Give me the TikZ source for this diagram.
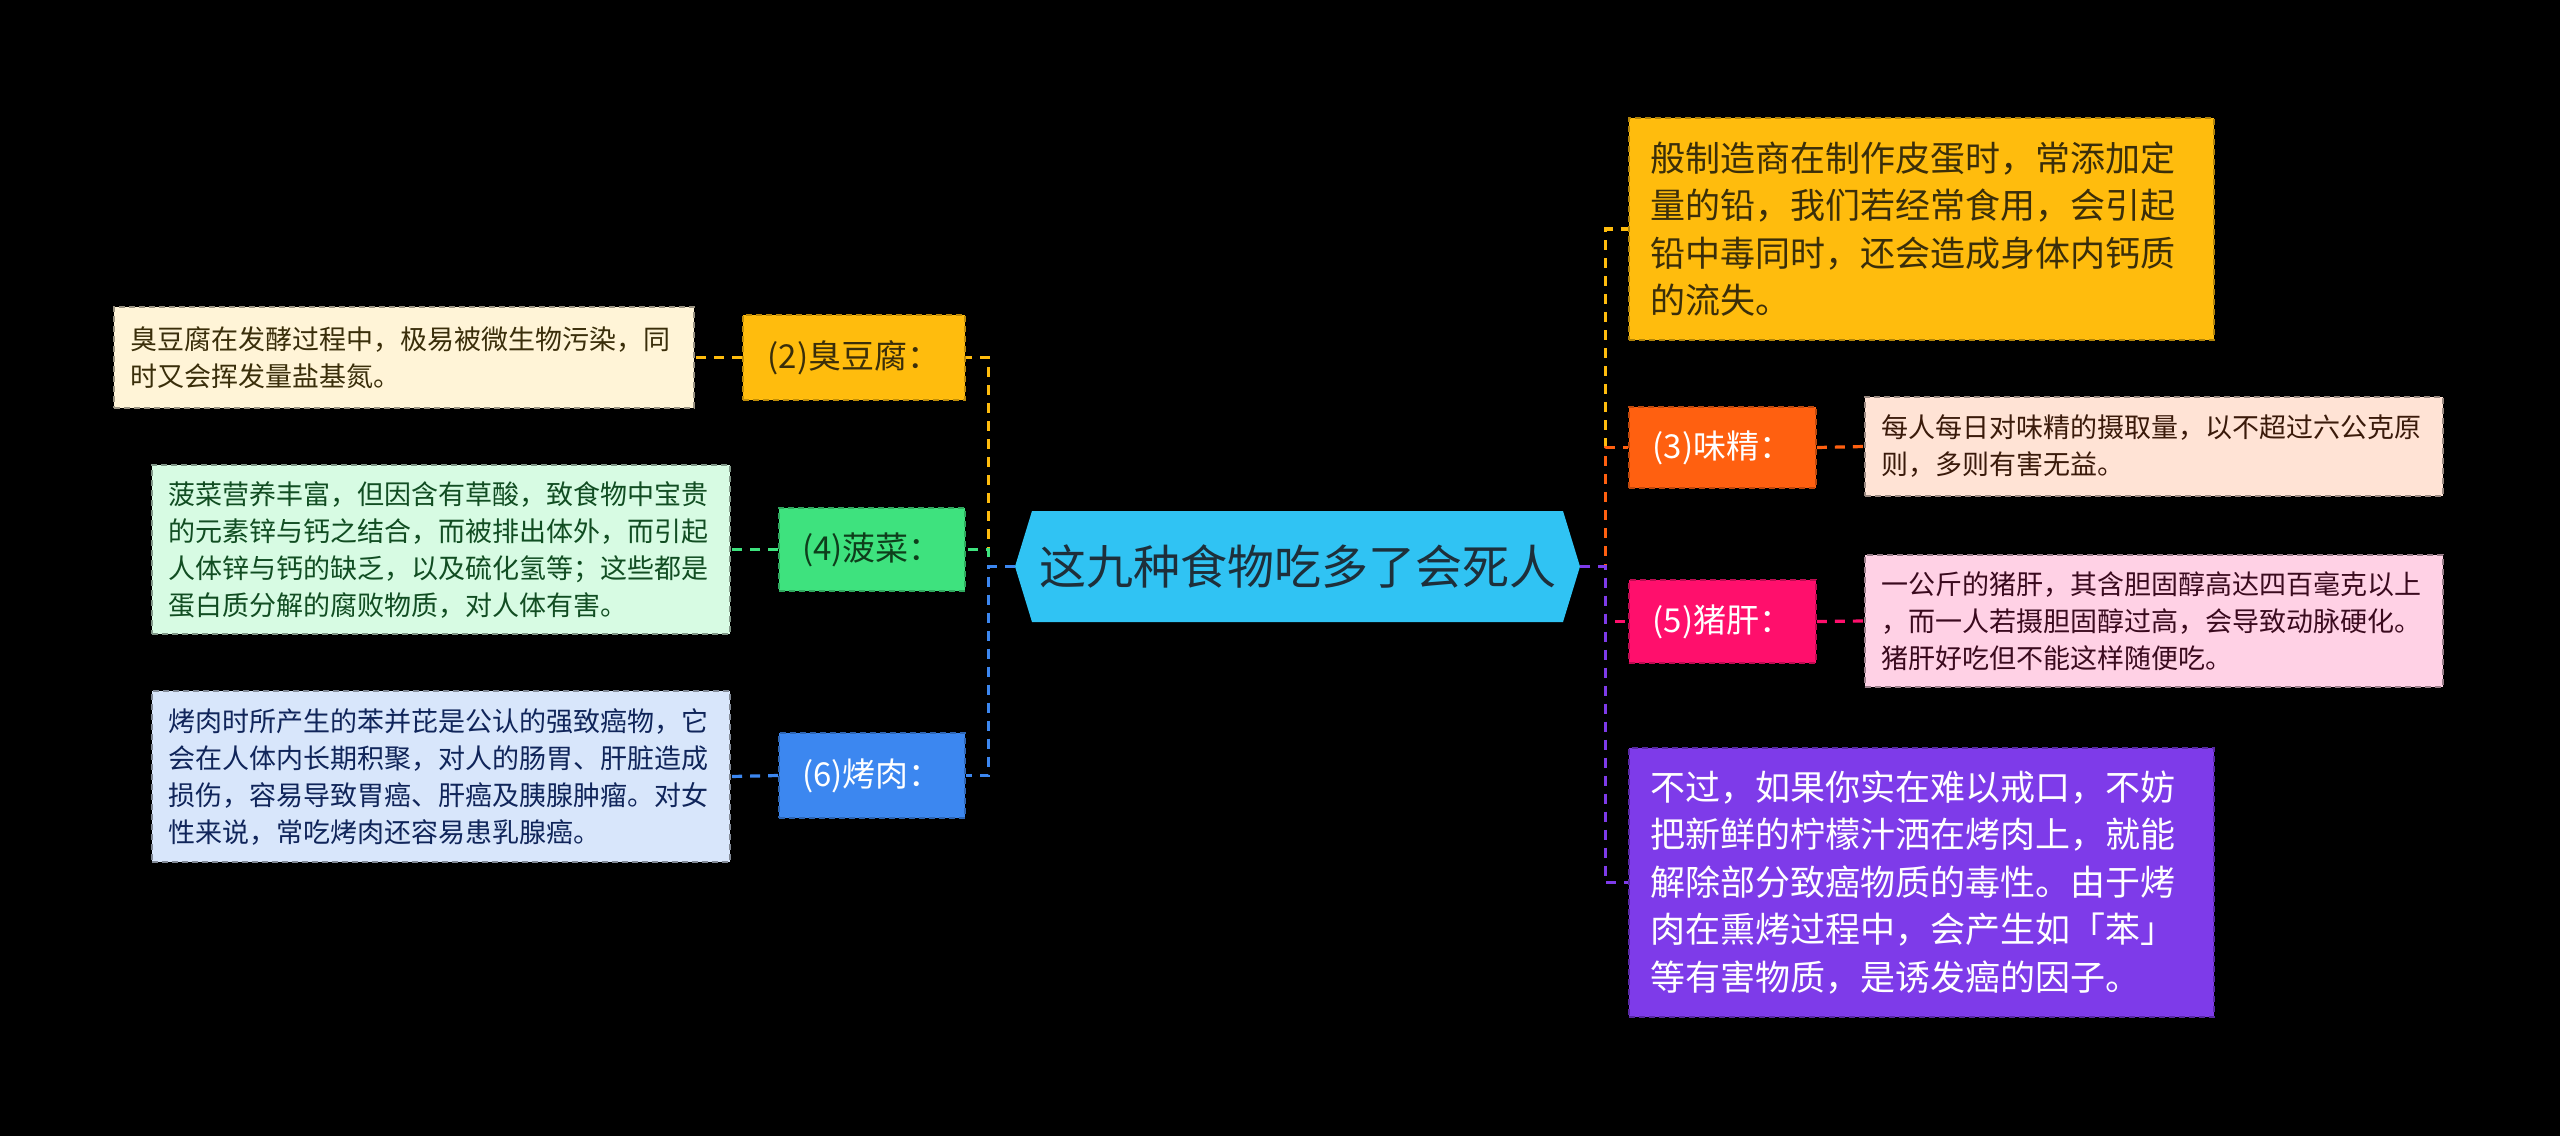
\documentclass[tikz,border=0pt]{standalone}
\usepackage{fontspec}
\setmainfont{Noto Sans CJK SC}
\definecolor{ycol}{HTML}{FFBC0D}
\definecolor{gcol}{HTML}{3EE27E}
\definecolor{bcol}{HTML}{3C87F0}
\definecolor{ocol}{HTML}{FF6010}
\definecolor{pcol}{HTML}{FF0F6C}
\definecolor{vcol}{HTML}{7E3BE9}
\definecolor{rootc}{HTML}{30C3F3}
\definecolor{dyfill}{HTML}{FFF4D7}
\definecolor{dgfill}{HTML}{D7FBE3}
\definecolor{dbfill}{HTML}{D8E6FB}
\definecolor{dofill}{HTML}{FFE3D5}
\definecolor{dpfill}{HTML}{FFD1E5}
\definecolor{tyd}{HTML}{3A2E0A}
\definecolor{tgd}{HTML}{114D22}
\definecolor{tbd}{HTML}{10255A}
\definecolor{tod}{HTML}{3A1A0A}
\definecolor{tpd}{HTML}{3A0A1E}
\definecolor{troot}{HTML}{1E2F3A}
\begin{document}
\begin{tikzpicture}[x=1pt,y=-1pt,
  box/.style={rectangle, line width=1.6pt, dash pattern=on 6pt off 4pt},
  descbox/.style={box, font=\fontsize{27}{37}\selectfont, align=left, text width=546pt, inner xsep=16pt, inner ysep=0pt},
  labbox/.style={box, font=\fontsize{33}{40}\selectfont, align=center, inner sep=0pt},
  bigbox/.style={box, font=\fontsize{35}{47.5}\selectfont, align=left, text width=543pt, inner xsep=21pt, inner ysep=0pt, minimum width=585pt},
  link/.style={line width=3.2pt, dash pattern=on 10pt off 8pt}
]
\fill[black] (0,0) rectangle (2560,1136);
\useasboundingbox (0,0) rectangle (2560,1136);

% root
\node[rectangle, inner sep=0pt, minimum width=565pt, minimum height=111pt,
  font=\fontsize{47}{56}\selectfont, text=troot,
  path picture={\fill[rootc] (path picture bounding box.west)
    -- ([xshift=17pt]path picture bounding box.north west)
    -- ([xshift=-17pt]path picture bounding box.north east)
    -- (path picture bounding box.east)
    -- ([xshift=-17pt]path picture bounding box.south east)
    -- ([xshift=17pt]path picture bounding box.south west) -- cycle;}]
  (root) at (1297.5,566.5) {这九种食物吃多了会死人};

% left labels
\node[labbox, fill=ycol, draw=ycol!75!black, text=tyd, minimum width=222pt, minimum height=85pt] (l2) at (854,357.5) {(2)臭豆腐：};
\node[labbox, fill=gcol, draw=gcol!75!black, text=tgd!80!black, minimum width=186pt, minimum height=83pt] (l4) at (872,549.5) {(4)菠菜：};
\node[labbox, fill=bcol, draw=bcol!75!black, text=white, minimum width=186pt, minimum height=85pt] (l6) at (872,775.5) {(6)烤肉：};

% left descriptions
\node[descbox, fill=dyfill, draw=dyfill!60!black, text=tyd, text width=548pt, minimum height=101pt] (d2) at (404,357.5) {臭豆腐在发酵过程中，极易被微生物污染，同\\时又会挥发量盐基氮。};
\node[descbox, fill=dgfill, draw=dgfill!60!black, text=tgd, minimum height=169pt] (d4) at (441,549.5) {菠菜营养丰富，但因含有草酸，致食物中宝贵\\的元素锌与钙之结合，而被排出体外，而引起\\人体锌与钙的缺乏，以及硫化氢等；这些都是\\蛋白质分解的腐败物质，对人体有害。};
\node[descbox, fill=dbfill, draw=dbfill!60!black, text=tbd, minimum height=171pt] (d6) at (441,776.5) {烤肉时所产生的苯并芘是公认的强致癌物，它\\会在人体内长期积聚，对人的肠胃、肝脏造成\\损伤，容易导致胃癌、肝癌及胰腺肿瘤。对女\\性来说，常吃烤肉还容易患乳腺癌。};

% right side
\node[bigbox, fill=ycol, draw=ycol!70!black, text=tyd, minimum height=222pt] (t1) at (1921.5,229) {般制造商在制作皮蛋时，常添加定\\量的铅，我们若经常食用，会引起\\铅中毒同时，还会造成身体内钙质\\的流失。};
\node[labbox, fill=ocol, draw=ocol!75!black, text=white, minimum width=187pt, minimum height=81pt] (l3) at (1722.5,447.5) {(3)味精：};
\node[labbox, fill=pcol, draw=pcol!75!black, text=white, minimum width=187pt, minimum height=83pt] (l5) at (1722.5,621.5) {(5)猪肝：};
\node[bigbox, fill=vcol, draw=vcol!70!black, text=white, minimum height=269pt] (t7) at (1921.5,882.5) {不过，如果你实在难以戒口，不妨\\把新鲜的柠檬汁洒在烤肉上，就能\\解除部分致癌物质的毒性。由于烤\\肉在熏烤过程中，会产生如「苯」\\等有害物质，是诱发癌的因子。};

\node[descbox, fill=dofill, draw=dofill!60!black, text=tod, minimum height=99pt] (d3) at (2154,446.5) {每人每日对味精的摄取量，以不超过六公克原\\则，多则有害无益。};
\node[descbox, fill=dpfill, draw=dpfill!60!black, text=tpd, minimum height=132pt] (d5) at (2154,621) {一公斤的猪肝，其含胆固醇高达四百毫克以上\\，而一人若摄胆固醇过高，会导致动脉硬化。\\猪肝好吃但不能这样随便吃。};

% connectors root -> children
\draw[link, ycol] (root.west) -- ++(-26,0) |- (l2.east);
\draw[link, gcol] (root.west) -- ++(-26,0) |- (l4.east);
\draw[link, bcol] (root.west) -- ++(-26,0) |- (l6.east);
\draw[link, ycol] (root.east) -- ++(25,0) |- (t1.west);
\draw[link, ocol] (root.east) -- ++(25,0) |- (l3.west);
\draw[link, pcol] (root.east) -- ++(25,0) |- (l5.west);
\draw[link, vcol] (root.east) -- ++(25,0) |- (t7.west);

% connectors label -> description
\draw[link, ycol] (l2.west) -- (d2.east);
\draw[link, gcol] (l4.west) -- (d4.east);
\draw[link, bcol] (l6.west) -- (d6.east);
\draw[link, ocol] (l3.east) -- (d3.west);
\draw[link, pcol] (l5.east) -- (d5.west);
\end{tikzpicture}
\end{document}
